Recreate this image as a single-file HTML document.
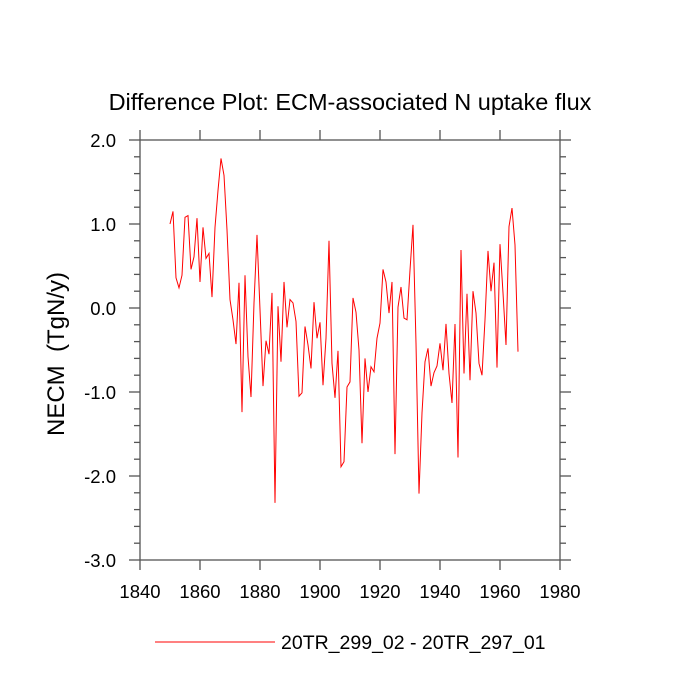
<!DOCTYPE html>
<html><head><meta charset="utf-8"><style>
html,body{margin:0;padding:0;background:#fff;}
svg{display:block;font-family:"Liberation Sans",Arial,sans-serif;}
</style></head><body>
<svg id="chart" width="700" height="700" viewBox="0 0 700 700">
<text x="350" y="110" font-size="23.5" text-anchor="middle">Difference Plot: ECM-associated N uptake flux</text>
<text transform="translate(64,354) rotate(-90)" font-size="24" text-anchor="middle">NECM&#160;&#160;(TgN/y)</text>
<g id="axes"></g>
<polyline id="series" fill="none" stroke="#ff0000" stroke-width="1"></polyline>
<g>
<line x1="155" y1="642" x2="275" y2="642" stroke="#ff0000" stroke-width="1"></line>
<text x="281" y="649" font-size="19.5">20TR_299_02 - 20TR_297_01</text>
</g>
</svg>
<script>
const years0 = 1850;
const values = [1.0,1.15,0.36,0.24,0.39,1.08,1.1,0.46,0.61,1.07,0.31,0.96,0.59,0.65,0.13,0.96,1.40,1.78,1.58,0.93,0.1,-0.14,-0.43,0.3,-1.24,0.39,-0.58,-1.06,0.06,0.87,-0.02,-0.93,-0.39,-0.55,0.18,-2.32,0.02,-0.64,0.31,-0.23,0.1,0.06,-0.16,-1.05,-1.01,-0.22,-0.44,-0.72,0.07,-0.36,-0.17,-0.92,-0.36,0.8,-0.66,-1.07,-0.51,-1.89,-1.83,-0.94,-0.88,0.12,-0.05,-0.5,-1.61,-0.6,-1.0,-0.7,-0.76,-0.36,-0.18,0.46,0.31,-0.06,0.31,-1.74,0.01,0.25,-0.12,-0.14,0.45,0.99,-0.42,-2.21,-1.25,-0.64,-0.48,-0.93,-0.77,-0.69,-0.42,-0.74,-0.19,-0.78,-1.13,-0.19,-1.78,0.69,-0.78,0.17,-0.86,0.2,-0.06,-0.66,-0.8,-0.14,0.68,0.2,0.54,-0.71,0.76,0.18,-0.44,0.97,1.19,0.75,-0.52];
const xTicks = [1840,1860,1880,1900,1920,1940,1960,1980];
const yTicks = [2.0,1.0,0.0,-1.0,-2.0,-3.0];
const yTickLabels = ["2.0","1.0","0.0","-1.0","-2.0","-3.0"];
const L=140,R=560,T=140,B=560;
const xs = v => L + (v-1840)/(1980-1840)*(R-L);
const ys = v => T + (2-v)/(2-(-3))*(B-T);
const NS="http://www.w3.org/2000/svg";
const axes=document.getElementById('axes');
function ln(x1,y1,x2,y2,name){const e=document.createElementNS(NS,'line');e.setAttribute('x1',x1);e.setAttribute('y1',y1);e.setAttribute('x2',x2);e.setAttribute('y2',y2);e.setAttribute('stroke','#555');e.setAttribute('stroke-width','1.3');


axes.appendChild(e);}
function tx(x,y,s,name,anchor){const e=document.createElementNS(NS,'text');e.setAttribute('x',x);e.setAttribute('y',y);e.setAttribute('font-size','18.5');e.setAttribute('text-anchor',anchor);e.textContent=s;


axes.appendChild(e);}
const fr=document.createElementNS(NS,'rect');fr.setAttribute('x',L);fr.setAttribute('y',T);fr.setAttribute('width',R-L);fr.setAttribute('height',B-T);fr.setAttribute('fill','none');fr.setAttribute('stroke','#555');fr.setAttribute('stroke-width','1.3');


axes.appendChild(fr);
xTicks.forEach(v=>{const x=xs(v);ln(x,B,x,B+10,'x-tick');ln(x,T,x,T-10,'x-tick-top');tx(x,B+38,String(v),'x-tick-label','middle');});
yTicks.forEach((v,i)=>{const y=ys(v);ln(L-11,y,L,y,'y-tick');ln(R,y,R+11,y,'y-tick-right');tx(L-24,y+7,yTickLabels[i],'y-tick-label','end');});
for(let v=-3;v<2-1e-9;v+=0.2){const k=Math.round(v*5);if(k%5===0)continue;const y=ys(v);ln(L-6,y,L,y,'y-minor-tick');ln(R,y,R+6,y,'y-minor-tick-right');}
document.getElementById('series').setAttribute('points',values.map((v,i)=>xs(years0+i)+','+ys(v)).join(' '));
</script>
</body></html>
